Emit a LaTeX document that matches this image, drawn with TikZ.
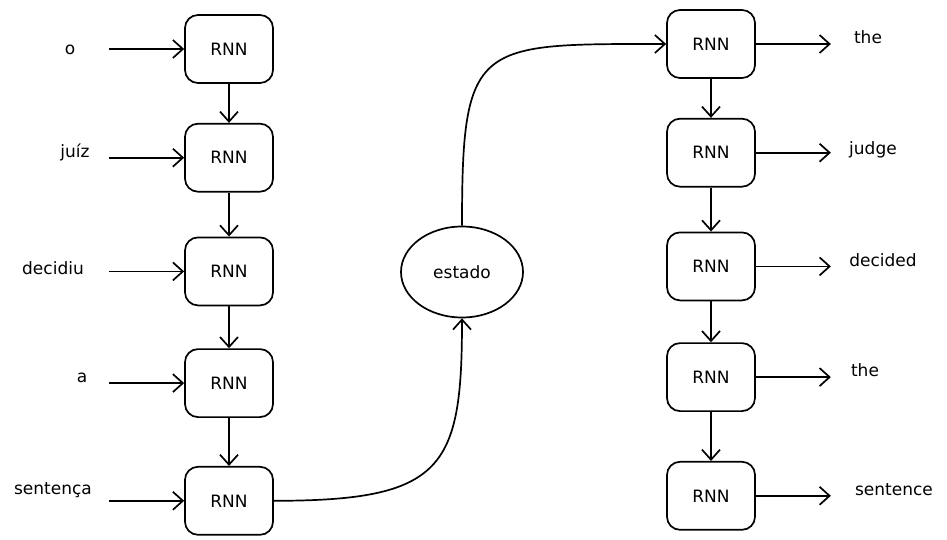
\documentclass[tikz,border=0pt]{standalone}
\usepackage{fontspec}
\setmainfont{DejaVu Sans}
\usepackage{xcolor}
\usepackage{tikz}
\usetikzlibrary{shapes,arrows.meta,positioning,calc}

\begin{document}
\begin{tikzpicture}[x=1pt, y=1pt, font=\fontsize{17}{20}\selectfont]
    \tikzstyle{rnn} = [draw, line width=1.7pt, rectangle, minimum height=68pt, minimum width=88pt, rounded corners=13pt, align=center]
    \tikzstyle{state} = [draw, line width=1.7pt, ellipse, minimum height=91pt, minimum width=122pt]
    \tikzstyle{word} = [inner sep=1pt]
    \tikzstyle{link} = [line width=1.7pt, -{Straight Barb[length=10pt, width=18pt, line width=1.7pt]}]

    \useasboundingbox (0,0) rectangle (947,539);

    % Nodes
    \node [rnn] at (229,490) (l1) {RNN};
    \node [rnn, below=39pt of l1] (l2) {RNN};
    \node [rnn, below=44pt of l2] (l3) {RNN};
    \node [rnn, below=42pt of l3] (l4) {RNN};
    \node [rnn, below=48pt of l4] (l5) {RNN};

    \node [state] at (462,267) (estado) {estado};

    \node [rnn] at (711,495) (r1) {RNN};
    \node [rnn, below=39pt of r1] (r2) {RNN};
    \node [rnn, below=44pt of r2] (r3) {RNN};
    \node [rnn, below=41pt of r3] (r4) {RNN};
    \node [rnn, below=49pt of r4] (r5) {RNN};

    % input words
    \node [word] at (70,489) (w1) {o};
    \node [word] at (75,387) (w2) {juíz};
    \node [word] at (53,271) (w3) {decidiu};
    \node [word] at (82,161) (w4) {a};
    \node [word] at (53,49) (w5) {sentença};

    % output words
    \node [word] at (868,502) (t1) {the};
    \node [word] at (873,389) (t2) {judge};
    \node [word] at (883,279) (t3) {decided};
    \node [word] at (865,169) (t4) {the};
    \node [word] at (894,49) (t5) {sentence};

    \foreach \i in {1,...,5} {
        \coordinate [left=75pt of l\i.west] (in\i);
        \coordinate [right=75pt of r\i.east] (out\i);
    }

    % Paths
    \foreach \i in {1,...,5} {
        \draw [link] (in\i) -- (l\i);
        \draw [link] (r\i) -- (out\i);
    }
    \foreach \i/\j in {1/2,2/3,3/4,4/5} {
        \draw [link] (l\i) -- (l\j);
        \draw [link] (r\i) -- (r\j);
    }
    \draw [link] (l5.east) .. controls +(170,0) and +(0,-150) .. (estado.south);
    \draw [link] (estado.north) .. controls +(0,185) and +(-190,0) .. (r1.west);
\end{tikzpicture}
\end{document}
